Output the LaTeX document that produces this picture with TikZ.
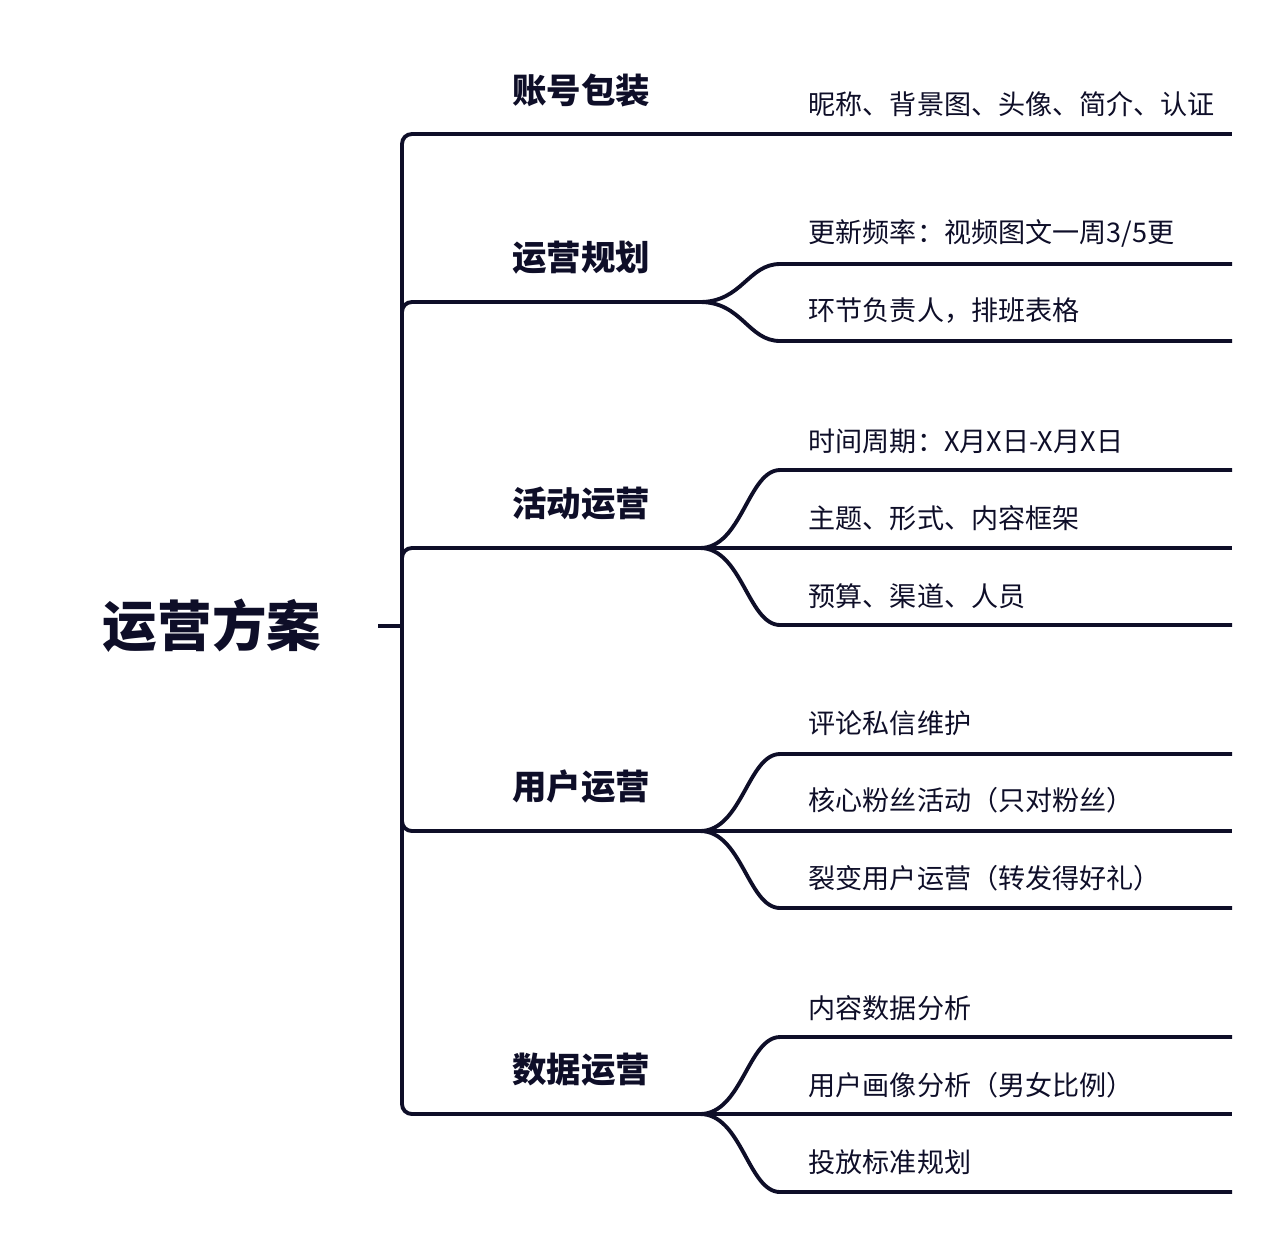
\documentclass[tikz,border=0pt]{standalone}
\usepackage{fontspec}
\setmainfont{Noto Sans CJK SC}
\usepackage{tikz}
\usetikzlibrary{calc,positioning}
\definecolor{mapnavy}{RGB}{14, 14, 40}

\tikzset{
  mapline/.style={line width=1.1pt, mapnavy, rounded corners=2.8pt},
  rootlabel/.style={font=\bfseries\fontsize{15.5}{18}\selectfont, text=mapnavy},
  topiclabel/.style={font=\bfseries\fontsize{9.8}{12}\selectfont, text=mapnavy},
  itemlabel/.style={font=\fontsize{7.7}{9}\selectfont, text=mapnavy, anchor=west, inner sep=0pt},
}

\begin{document}
\begin{tikzpicture}[x=0.01cm, y=-0.01cm]
    \useasboundingbox (0,0) rectangle (1280,1233);

    % Root
    \node[rootlabel] (root) at (212,626) {运营方案};
    \coordinate (stub) at (378,626);
    \coordinate (hub) at (402,626);
    \draw[mapline] (stub) -- (hub);

    % Topic junctions
    \coordinate (p1) at (700,134);
    \coordinate (p2) at (700,302);
    \coordinate (p3) at (700,548);
    \coordinate (p4) at (700,831);
    \coordinate (p5) at (700,1114);

    % Trunk to each topic
    \draw[mapline] (hub) -- (402,134) -- (p1);
    \draw[mapline] (hub) -- (402,302) -- (p2);
    \draw[mapline] (hub) -- (402,548) -- (p3);
    \draw[mapline] (hub) -- (402,831) -- (p4);
    \draw[mapline] (hub) -- (402,1114) -- (p5);

    % Topic labels
    \node[topiclabel] (t1) at (581,90) {账号包装};
    \node[topiclabel] (t2) at (581,258) {运营规划};
    \node[topiclabel] (t3) at (581,504) {活动运营};
    \node[topiclabel] (t4) at (581,787) {用户运营};
    \node[topiclabel] (t5) at (581,1070) {数据运营};

    % Items of topic 1
    \coordinate (e11) at (1232,134);
    \draw[mapline] (p1) -- (e11);
    \node[itemlabel] (i11) at (808,104) {昵称、背景图、头像、简介、认证};

    % Items of topic 2
    \coordinate (s21) at (790,264);
    \coordinate (e21) at (1232,264);
    \coordinate (s22) at (790,341);
    \coordinate (e22) at (1232,341);
    \draw[mapline] (p2) .. controls (742,302) and (748,264) .. (s21) -- (e21);
    \draw[mapline] (p2) .. controls (742,302) and (748,341) .. (s22) -- (e22);
    \node[itemlabel] (i21) at (808,233) {更新频率：视频图文一周3/5更};
    \node[itemlabel] (i22) at (808,311) {环节负责人，排班表格};

    % Items of topic 3
    \coordinate (s31) at (790,470);
    \coordinate (e31) at (1232,470);
    \coordinate (e32) at (1232,548);
    \coordinate (s33) at (790,625);
    \coordinate (e33) at (1232,625);
    \draw[mapline] (p3) .. controls (742,548) and (748,470) .. (s31) -- (e31);
    \draw[mapline] (p3) -- (e32);
    \draw[mapline] (p3) .. controls (742,548) and (748,625) .. (s33) -- (e33);
    \node[itemlabel] (i31) at (808,441) {时间周期：X月X日-X月X日};
    \node[itemlabel] (i32) at (808,518) {主题、形式、内容框架};
    \node[itemlabel] (i33) at (808,596) {预算、渠道、人员};

    % Items of topic 4
    \coordinate (s41) at (790,754);
    \coordinate (e41) at (1232,754);
    \coordinate (e42) at (1232,831);
    \coordinate (s43) at (790,908);
    \coordinate (e43) at (1232,908);
    \draw[mapline] (p4) .. controls (742,831) and (748,754) .. (s41) -- (e41);
    \draw[mapline] (p4) -- (e42);
    \draw[mapline] (p4) .. controls (742,831) and (748,908) .. (s43) -- (e43);
    \node[itemlabel] (i41) at (808,723) {评论私信维护};
    \node[itemlabel] (i42) at (808,800) {核心粉丝活动（只对粉丝）};
    \node[itemlabel] (i43) at (808,878) {裂变用户运营（转发得好礼）};

    % Items of topic 5
    \coordinate (s51) at (790,1037);
    \coordinate (e51) at (1232,1037);
    \coordinate (e52) at (1232,1114);
    \coordinate (s53) at (790,1192);
    \coordinate (e53) at (1232,1192);
    \draw[mapline] (p5) .. controls (742,1114) and (748,1037) .. (s51) -- (e51);
    \draw[mapline] (p5) -- (e52);
    \draw[mapline] (p5) .. controls (742,1114) and (748,1192) .. (s53) -- (e53);
    \node[itemlabel] (i51) at (808,1008) {内容数据分析};
    \node[itemlabel] (i52) at (808,1085) {用户画像分析（男女比例）};
    \node[itemlabel] (i53) at (808,1162) {投放标准规划};
\end{tikzpicture}
\end{document}
